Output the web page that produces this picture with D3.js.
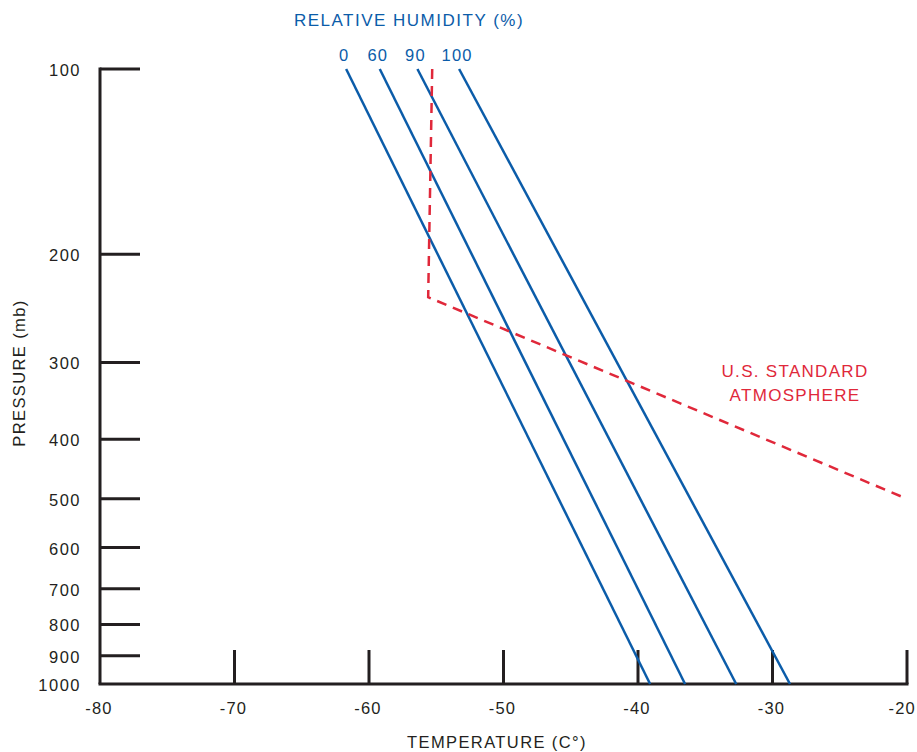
<!DOCTYPE html>
<html lang="en">
<head>
<meta charset="UTF-8">
<title>Contrail chart</title>
<script src="https://d3js.org/d3.v7.min.js"></script>
<style>
  body { margin: 0; background: #fff; }
  text { font-family: "Liberation Sans", Arial, sans-serif; }
</style>
</head>
<body>
<svg width="917" height="752"></svg>
<script>
// data
const tempTicks = [-80, -70, -60, -50, -40, -30, -20];
const pressTicks = [100, 200, 300, 400, 500, 600, 700, 800, 900, 1000];
const rhLabels = ["0", "60", "90", "100"];
// temperature of each RH line at 100 mb and at 1000 mb
const rhTop = [-61.7, -59.2, -56.4, -53.3];
const rhBottom = [-39.1, -36.5, -32.7, -28.7];
// U.S. standard atmosphere: [pressure, temperature]
const stdAtmosphere = [[100, -55.3], [235, -55.6], [500, -20]];

const svg = d3.select("svg");
const W = +svg.attr("width");
const blue = "#0b5ca9", red = "#e0283a", ink = "#231f20";

const x = d3.scaleLinear().domain([-80, -20]).range([100, 907]);
const y = d3.scaleLog().domain([100, 1000]).range([69, 684]);

// axes
svg.append("line")
  .attr("x1", x(-80)).attr("x2", x(-80))
  .attr("y1", y(100) - 1.5).attr("y2", y(1000))
  .attr("stroke", ink).attr("stroke-width", 3);
svg.append("line")
  .attr("x1", x(-80) - 1.5).attr("x2", x(-20) + 1.5)
  .attr("y1", y(1000)).attr("y2", y(1000))
  .attr("stroke", ink).attr("stroke-width", 3);

svg.selectAll(".yt").data(pressTicks.filter(p => p < 1000)).enter().append("line")
  .attr("x1", x(-80)).attr("x2", x(-80) + 40)
  .attr("y1", d => y(d)).attr("y2", d => y(d))
  .attr("stroke", ink).attr("stroke-width", 3);

svg.selectAll(".xt").data(tempTicks.filter(t => t > -80)).enter().append("line")
  .attr("x1", d => x(d)).attr("x2", d => x(d))
  .attr("y1", y(1000)).attr("y2", y(1000) - 34)
  .attr("stroke", ink).attr("stroke-width", 3);

svg.selectAll(".yl").data(pressTicks).enter().append("text")
  .attr("x", 81).attr("y", d => y(d) + 7)
  .attr("text-anchor", "end").attr("font-size", 16.5).attr("fill", ink)
  .attr("letter-spacing", 1.5)
  .text(d => d);

// x labels centred on ticks, pulled in if they would run off the right edge
svg.selectAll(".xl").data(tempTicks).enter().append("text")
  .attr("y", 714)
  .attr("text-anchor", "middle").attr("font-size", 16.5).attr("fill", ink)
  .attr("letter-spacing", 1.2)
  .text(d => d)
  .attr("x", function (d) {
    const half = this.getComputedTextLength() / 2;
    return Math.min(x(d) - 1, W - 1 - half);
  });

svg.append("text")
  .attr("x", 497).attr("y", 748)
  .attr("text-anchor", "middle").attr("font-size", 16.5).attr("fill", ink)
  .attr("letter-spacing", 1.4)
  .text("TEMPERATURE (C°)");

svg.append("text")
  .attr("transform", "translate(25,373) rotate(-90)")
  .attr("text-anchor", "middle").attr("font-size", 16.5).attr("fill", ink)
  .attr("letter-spacing", 1.4)
  .text("PRESSURE (mb)");

// RH lines
const rhLines = rhLabels.map((l, i) => ({ label: l, top: rhTop[i], bottom: rhBottom[i] }));
svg.selectAll(".rh").data(rhLines).enter().append("line")
  .attr("x1", d => x(d.top)).attr("y1", y(100))
  .attr("x2", d => x(d.bottom)).attr("y2", y(1000))
  .attr("stroke", blue).attr("stroke-width", 2.5);

svg.selectAll(".rhl").data(rhLines).enter().append("text")
  .attr("x", d => x(d.top) - 2).attr("y", 61)
  .attr("text-anchor", "middle").attr("font-size", 16.5).attr("fill", blue)
  .attr("letter-spacing", 1.2)
  .text(d => d.label);

svg.append("text")
  .attr("x", 409).attr("y", 26)
  .attr("text-anchor", "middle").attr("font-size", 17).attr("fill", blue)
  .attr("letter-spacing", 1.5)
  .text("RELATIVE HUMIDITY (%)");

// standard atmosphere
svg.append("path")
  .datum(stdAtmosphere)
  .attr("d", d3.line().x(d => x(d[1])).y(d => y(d[0])))
  .attr("fill", "none").attr("stroke", red).attr("stroke-width", 2.5)
  .attr("stroke-dasharray", "10,7");

svg.selectAll(".sa").data(["U.S. STANDARD", "ATMOSPHERE"]).enter().append("text")
  .attr("x", 795).attr("y", (d, i) => 377 + i * 24)
  .attr("text-anchor", "middle").attr("font-size", 17).attr("fill", red)
  .attr("letter-spacing", 1.3)
  .text(d => d);
</script>
</body>
</html>
